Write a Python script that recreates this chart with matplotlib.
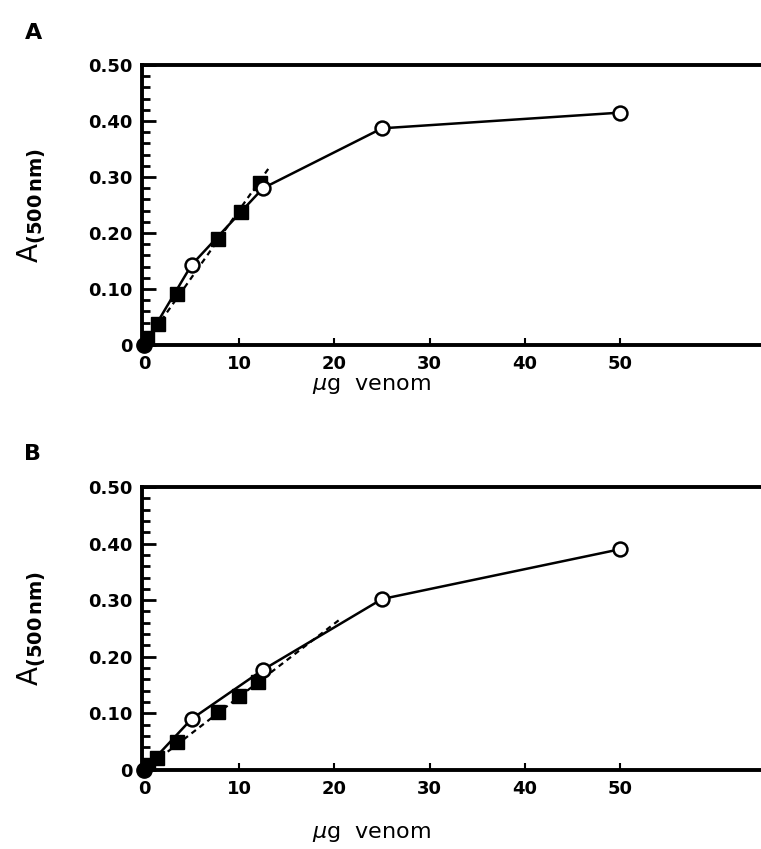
import numpy as np
import matplotlib.pyplot as plt
from matplotlib.ticker import MultipleLocator, FixedLocator

# panel A data
a_circ_x = [0, 5, 12.5, 25, 50]
a_circ_y = [0, 0.143, 0.28, 0.387, 0.415]
a_sq_x = [0.3, 1.5, 3.5, 7.8, 10.2, 12.2]
a_sq_y = [0.012, 0.037, 0.091, 0.19, 0.237, 0.29]
a_fit_x = [0, 13.2]
a_fit_y = [0, 0.318]

# panel B data
b_circ_x = [0, 5, 12.5, 25, 50]
b_circ_y = [0, 0.09, 0.177, 0.302, 0.39]
b_sq_x = [0.4, 1.4, 3.5, 7.8, 10, 12]
b_sq_y = [0.008, 0.021, 0.05, 0.102, 0.13, 0.155]
b_fit_x = [0, 20.5]
b_fit_y = [0, 0.265]

yticks = [0, 0.10, 0.20, 0.30, 0.40, 0.50]
ylabels = ["0", "0.10", "0.20", "0.30", "0.40", "0.50"]
xticks = [0, 10, 20, 30, 40, 50]

plt.rcParams['font.family'] = 'DejaVu Sans'

fig = plt.figure(figsize=(7.61, 8.49), dpi=100)
axA = fig.add_axes([0.1866, 0.5936, 0.8134, 0.3298])
axB = fig.add_axes([0.1866, 0.0931, 0.8134, 0.3333])


def draw(ax, cx, cy, sx, sy, fx, fy, letter, xlab_y):
    ax.plot(cx, cy, color='black', lw=1.8, zorder=3)
    ax.plot(fx, fy, color='black', lw=1.6, ls=(0, (2.5, 2)), zorder=2)
    ax.plot(sx, sy, ls='none', marker='s', ms=10, color='black', zorder=4)
    ax.plot(cx[1:], cy[1:], ls='none', marker='o', ms=10, mfc='white',
            mec='black', mew=1.8, zorder=5)
    ax.plot([0], [0], ls='none', marker='o', ms=11, color='black',
            zorder=6, clip_on=False)
    ax.set_xlim(-0.2, 64.8)
    ax.set_ylim(0, 0.5)
    ax.spines['right'].set_visible(False)
    for s in ['left', 'top', 'bottom']:
        ax.spines[s].set_linewidth(2.8)
    ax.yaxis.set_major_locator(FixedLocator(yticks))
    ax.set_yticklabels(ylabels, fontsize=13, fontweight='semibold')
    ax.yaxis.set_minor_locator(MultipleLocator(0.02))
    ax.xaxis.set_major_locator(FixedLocator(xticks))
    ax.set_xticklabels([str(t) for t in xticks], fontsize=13, fontweight='semibold')
    ax.tick_params(axis='y', which='major', direction='in', length=10, width=2, pad=7)
    ax.tick_params(axis='y', which='minor', direction='in', length=6, width=2)
    ax.tick_params(axis='x', which='major', direction='in', length=5, width=1.5, pad=7)
    ax.set_xlabel(r'$\mu$g  venom', fontsize=16)
    ax.xaxis.set_label_coords(0.37, xlab_y)
    ax.set_ylabel(r'A$_{\mathbf{(500\,nm)}}$', fontsize=20)
    ax.yaxis.set_label_coords(-0.15, 0.5)
    ax.text(-0.19, 1.08, letter, transform=ax.transAxes, fontsize=16,
            fontweight='bold', ha='left', va='bottom')


draw(axA, a_circ_x, a_circ_y, a_sq_x, a_sq_y, a_fit_x, a_fit_y, 'A', -0.11)
draw(axB, b_circ_x, b_circ_y, b_sq_x, b_sq_y, b_fit_x, b_fit_y, 'B', -0.19)

fig.savefig('out.png', dpi=100)
